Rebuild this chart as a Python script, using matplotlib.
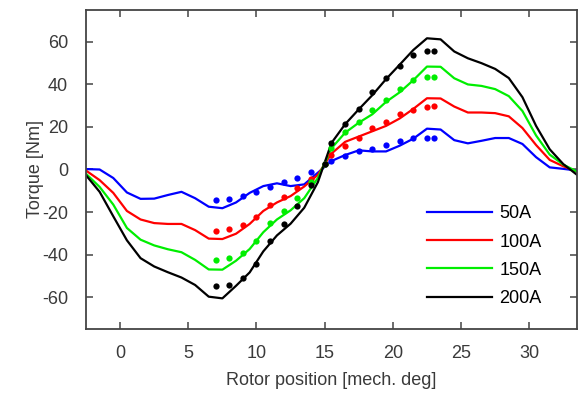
import numpy as np
import matplotlib
matplotlib.use('Agg')
import matplotlib.pyplot as plt

plt.rcParams['font.family'] = ['Liberation Sans', 'DejaVu Sans']
plt.rcParams['axes.unicode_minus'] = False

# simulated torque, sampled on a half-degree grid
pos_sim = [-2.5, -1.5, -0.5, 0.5, 1.5, 2.5, 3.5, 4.5, 5.5, 6.5, 7.5, 8.5,
           9.5, 10.5, 11.5, 12.5, 13.5, 14.5, 15.5, 16.5, 17.5, 18.5, 19.5,
           20.5, 21.5, 22.5, 23.5, 24.5, 25.5, 26.5, 27.5, 28.5, 29.5, 30.5,
           31.5, 32.5, 33.5]
sim_50 = [0.2, 0, -4, -10.8, -13.8, -13.7, -12, -10.5, -13.5, -17.5, -18.2, -15.5,
          -11, -7.8, -6.5, -7.8, -7, -1.5, 4, 6.8, 9, 8.5, 8.5,
          11.2, 14.5, 19.2, 18.8, 13.8, 12.3, 13.5, 14.8, 14.8, 12, 5.8,
          1, 0.3, -0.5]
sim_100 = [-0.5, -5, -11, -19.5, -23.5, -25.2, -25.6, -25.6, -28.5, -32.5, -32.7, -30.2,
           -25.6, -19.5, -15.5, -12.5, -8, -2.5, 7.5, 13, 15.5, 18, 20.5,
           24, 28.5, 33.5, 33.4, 29.6, 26.8, 26.8, 26.5, 25, 19.5, 11.5,
           4.5, 1.5, -1]
sim_150 = [-2, -8.2, -16.5, -27.5, -33, -35.7, -37.5, -38.9, -42.5, -47, -47.1, -42.9,
           -37.4, -29.5, -23.5, -19.2, -13.5, -4, 10, 17.3, 22, 26, 31.8,
           36.3, 42, 48.4, 48.3, 42.9, 40, 39.3, 37.8, 34.5, 27.5, 16,
           7, 2.3, -1]
sim_200 = [-2.7, -10.5, -22, -33.3, -41.7, -45.6, -48.3, -50.8, -54.3, -59.8, -60.6, -54.7,
           -48.4, -38.5, -31, -25.5, -18, -6, 12.5, 21.3, 28.3, 35, 42.5,
           49.3, 56.2, 61.7, 61.2, 55.5, 52.3, 50, 47.3, 43, 34, 20.5,
           9.5, 2.5, -2.5]

# measured torque (dots)
pos_meas = [7, 8, 9, 10, 11, 12, 13, 14, 15, 15.5, 16.5, 17.5, 18.5, 19.5, 20.5, 21.5, 22.5, 23]
meas_50 = [-14.3, -13.8, -12.6, -10.5, -8.0, -5.8, -4.0, -1.2, 2.4,
           3.8, 6.2, 8.5, 9.5, 11.5, 13.3, 14.8, 14.9, 14.9]
meas_100 = [-29, -28.2, -26.3, -22.3, -16.8, -12.9, -8.6, -4.3, 2.4,
            6.7, 11.1, 15, 19.3, 22.5, 25.9, 28.2, 29.6, 29.8]
meas_150 = [-42.5, -41.7, -39.2, -33.6, -25.3, -19.5, -13.2, -6, 2.4,
            9.9, 17.5, 22.5, 28, 32.7, 37.9, 42.1, 43.5, 43.7]
meas_200 = [-55, -54.1, -51.1, -44.5, -33.4, -25.6, -17.2, -7.4, 2.4,
            12.3, 21.2, 28.4, 36.3, 43, 48.8, 53.9, 55.8, 55.8]

labels = ['50A', '100A', '150A', '200A']
colors = ['#0000ff', '#ff0000', '#00ee00', '#000000']

fig = plt.figure(figsize=(5.83, 3.94), dpi=100)
ax = fig.add_axes([0.1475, 0.165, 0.8422, 0.8096])

for sim, lab, c in zip([sim_50, sim_100, sim_150, sim_200], labels, colors):
    ax.plot(pos_sim, sim, color=c, lw=1.6, label=lab)
for meas, c in zip([meas_50, meas_100, meas_150, meas_200], colors):
    ax.plot(pos_meas, meas, 'o', color=c, ms=4.5, mec='none')

ax.set_xlim(-2.5, 33.5)
ax.set_ylim(-75, 75)
ax.set_xticks([0, 5, 10, 15, 20, 25, 30])
ax.set_yticks([-60, -40, -20, 0, 20, 40, 60])

gray = '#444444'
for s in ax.spines.values():
    s.set_color(gray)
    s.set_linewidth(1.3)
ax.tick_params(direction='in', top=True, right=True, length=5, width=1.1,
               color=gray, labelcolor='#3a3a3a', labelsize=13)
ax.tick_params(axis='x', pad=11.5)
ax.tick_params(axis='y', pad=13)
ax.set_xlabel('Rotor position [mech. deg]', fontsize=13, color='#3a3a3a', labelpad=7)
ax.set_ylabel('Torque [Nm]', fontsize=13, color='#3a3a3a', labelpad=-1.5)

ax.legend(loc='upper left', bbox_to_anchor=(0.68, 0.41), frameon=False,
          fontsize=13, handlelength=3.6, labelspacing=0.62, handletextpad=0.4,
          borderaxespad=0)

plt.savefig('out.png', dpi=100)
